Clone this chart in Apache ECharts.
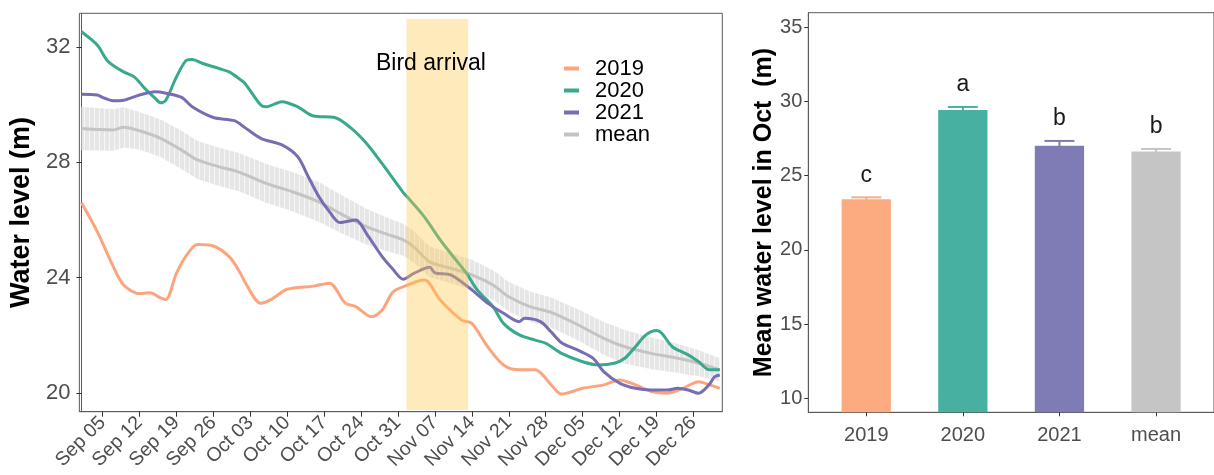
<!DOCTYPE html>
<html><head><meta charset="utf-8">
<script src="https://cdn.jsdelivr.net/npm/echarts@6/dist/echarts.min.js"></script>
<style>html,body{margin:0;padding:0;background:#fff}#c{width:1214px;height:475px}</style>
</head><body><div id="c"></div>
<script>
const YEAR = 2021;
// ---- left panel data (dates MM-DD) ----
const days2019 = ['09-01','09-04','09-07','09-09','09-12','09-14','09-16','09-17','09-19','09-21','09-23','09-26','09-29','10-01','10-02','10-05','10-07','10-10','10-15','10-18','10-21','10-23','10-26','10-28','10-30','11-01','11-05','11-08','11-12','11-14','11-17','11-20','11-23','11-26','11-29','12-01','12-05','12-09','12-12','12-15','12-18','12-21','12-24','12-27','12-29','12-31'];
const vals2019 = [26.6,25.6,24.4,23.75,23.45,23.48,23.3,23.25,24.15,24.8,25.15,25.1,24.73,24.2,23.85,23.12,23.25,23.6,23.71,23.81,23.12,23.0,22.65,22.88,23.5,23.69,23.92,23.23,22.54,22.42,21.61,20.98,20.81,20.81,20.3,19.97,20.17,20.29,20.46,20.29,20.06,20.0,20.17,20.4,20.29,20.17];
const days2020 = ['09-01','09-04','09-06','09-09','09-11','09-13','09-15','09-16','09-17','09-19','09-21','09-22','09-24','09-27','09-29','10-01','10-02','10-05','10-06','10-09','10-12','10-15','10-19','10-22','10-25','10-28','11-01','11-02','11-05','11-08','11-11','11-13','11-15','11-18','11-20','11-23','11-26','11-28','12-01','12-05','12-08','12-11','12-13','12-15','12-17','12-19','12-20','12-22','12-25','12-27','12-29','12-31'];
const vals2020 = [32.52,32.06,31.5,31.13,30.96,30.56,30.21,30.06,30.15,30.95,31.54,31.56,31.42,31.25,31.13,30.88,30.73,29.98,29.92,30.1,29.92,29.6,29.55,29.2,28.66,27.95,26.95,26.75,26.11,25.31,24.61,24.15,23.58,23.0,22.42,22.02,21.84,21.73,21.38,21.09,20.98,21.04,21.21,21.61,22.02,22.17,22.08,21.61,21.33,21.09,20.81,20.81];
const days2021 = ['09-01','09-04','09-05','09-07','09-09','09-12','09-15','09-17','09-20','09-22','09-26','09-30','10-02','10-05','10-09','10-12','10-14','10-16','10-18','10-20','10-23','10-25','10-28','10-30','11-01','11-03','11-06','11-07','11-10','11-14','11-17','11-20','11-23','11-24','11-27','11-29','12-01','12-04','12-07','12-09','12-12','12-15','12-18','12-21','12-23','12-25','12-27','12-29','12-30','12-31'];
const vals2021 = [30.36,30.33,30.25,30.13,30.15,30.33,30.44,30.39,30.25,29.92,29.55,29.44,29.2,28.83,28.6,28.19,27.5,26.81,26.29,25.91,26.0,25.54,24.73,24.3,23.95,24.15,24.36,24.17,24.1,23.58,23.12,22.77,22.48,22.6,22.48,22.13,21.75,21.5,21.21,20.75,20.35,20.17,20.11,20.11,20.17,20.11,20.0,20.3,20.57,20.63];
const daysMean = ['09-01','09-07','09-09','09-12','09-16','09-20','09-23','09-27','10-01','10-06','10-11','10-16','10-20','10-25','10-29','11-01','11-03','11-06','11-10','11-14','11-18','11-21','11-25','11-29','12-04','12-09','12-13','12-18','12-23','12-27','12-31'];
const valsMean = [29.17,29.12,29.21,29.09,28.83,28.42,28.08,27.85,27.65,27.27,26.98,26.63,26.23,25.77,25.5,25.31,25.07,24.55,24.33,24.1,23.75,23.34,23.0,22.8,22.38,21.9,21.61,21.38,21.21,21.04,20.81];
const sdMean = [0.75,0.72,0.7,0.65,0.65,0.66,0.66,0.66,0.66,0.67,0.68,0.69,0.66,0.62,0.58,0.55,0.55,0.53,0.52,0.52,0.51,0.51,0.52,0.52,0.54,0.57,0.58,0.55,0.5,0.45,0.4];
const birdArrival = [['11-01', 14.4], ['11-13', 7.2]];   // [date, hour]
const birdLevels = [19.42, 32.96];
const xTickDates = ['09-05','09-12','09-19','09-26','10-03','10-10','10-17','10-24','10-31','11-07','11-14','11-21','11-28','12-05','12-12','12-19','12-26'];
const xTickLabels = ['Sep 05','Sep 12','Sep 19','Sep 26','Oct 03','Oct 10','Oct 17','Oct 24','Oct 31','Nov 07','Nov 14','Nov 21','Nov 28','Dec 05','Dec 12','Dec 19','Dec 26'];
const yTicksLeft = [20, 24, 28, 32];
const seriesNames = ['2019', '2020', '2021', 'mean'];
// ---- right panel data ----
const barCats = ['2019', '2020', '2021', 'mean'];
const barMeans = [23.41, 29.43, 27.02, 26.62];
const barSE = [0.13, 0.2, 0.32, 0.18];
const barLetters = ['c', 'a', 'b', 'b'];
const yTicksRight = [10, 15, 20, 25, 30, 35];

const lineColors = ['#FBA47E', '#38A98D', '#776DB2', '#C4C4C4'];
const barColors = ['#FCAA80', '#48B0A0', '#7E7BB5', '#C5C5C5'];
const FONT = 'Liberation Sans, Arial, sans-serif';
const DAY = 86400000;
const ORIGIN = Date.UTC(YEAR, 8, 1);
// day index counted from Sep 01
function dayOf(md, hour) { const p = md.split('-').map(Number); return (Date.UTC(YEAR, p[0] - 1, p[1]) - ORIGIN) / DAY + (hour || 0) / 24; }
const pair = (days, vals) => days.map((d, i) => [dayOf(d), vals[i]]);
const xTickVals = xTickDates.map(d => dayOf(d));
const labelOf = v => { let best = 0; xTickVals.forEach((t, i) => { if (Math.abs(t - v) < Math.abs(xTickVals[best] - v)) best = i; }); return xTickLabels[best]; };
const bandData = daysMean.map((d, i) => [dayOf(d), valsMean[i], sdMean[i]]);

const pc = document.createElement('canvas'); pc.width = 5; pc.height = 4;
const pctx = pc.getContext('2d');
pctx.fillStyle = '#F7F7F7'; pctx.fillRect(0, 0, 5, 4);
pctx.fillStyle = '#E6E6E6'; pctx.fillRect(0, 0, 4, 4);

const chart = echarts.init(document.getElementById('c'), null, { renderer: 'canvas' });
const axisLineC = '#5A5A5A';
const option = {
  animation: false,
  textStyle: { fontFamily: FONT },
  grid: [
    { left: 76, top: 13.3, width: 646.3, height: 398.4, show: true, borderColor: axisLineC, borderWidth: 1, backgroundColor: '#fff' },
    { left: 808.3, top: 12.7, width: 413.2, height: 399.6, show: true, borderColor: axisLineC, borderWidth: 1, backgroundColor: '#fff' }
  ],
  xAxis: [
    { type: 'value', gridIndex: 0, min: dayOf('09-01') - 0.39, max: dayOf('12-31') + 0.47,
      axisLine: { show: true, lineStyle: { color: axisLineC } },
      axisTick: { show: true, length: 5, customValues: xTickVals, lineStyle: { color: '#333' } },
      axisLabel: { customValues: xTickVals, rotate: 45, margin: 8, fontSize: 19.5, color: '#4D4D4D', fontFamily: FONT, hideOverlap: false, formatter: v => labelOf(v) },
      splitLine: { show: false } },
    { type: 'value', gridIndex: 1, min: 0.4, max: 4.6,
      axisLine: { show: true, lineStyle: { color: axisLineC } },
      axisTick: { show: true, length: 4, customValues: [1, 2, 3, 4], lineStyle: { color: '#333' } },
      axisLabel: { customValues: [1, 2, 3, 4], margin: 13, fontSize: 20, color: '#4D4D4D', fontFamily: FONT, formatter: v => barCats[Math.round(v) - 1] },
      splitLine: { show: false } }
  ],
  yAxis: [
    { type: 'value', gridIndex: 0, min: 19.36, max: 33.16,
      axisLine: { show: true, lineStyle: { color: axisLineC } },
      axisTick: { show: true, length: 5, customValues: yTicksLeft, lineStyle: { color: '#333' } },
      axisLabel: { customValues: yTicksLeft, margin: 9, fontSize: 22, color: '#4D4D4D', fontFamily: FONT },
      splitLine: { show: false },
      name: 'Water level (m)', nameLocation: 'middle', nameGap: 40,
      nameTextStyle: { fontSize: 27, fontWeight: 'bold', color: '#000', fontFamily: FONT } },
    { type: 'value', gridIndex: 1, min: 9.057, max: 35.98,
      axisLine: { show: true, lineStyle: { color: axisLineC } },
      axisTick: { show: true, length: 4, customValues: yTicksRight, lineStyle: { color: '#333' } },
      axisLabel: { customValues: yTicksRight, margin: 6, fontSize: 20, color: '#4D4D4D', fontFamily: FONT },
      splitLine: { show: false },
      name: 'Mean water level in Oct  (m)', nameLocation: 'middle', nameGap: 32,
      nameTextStyle: { fontSize: 25, fontWeight: 'bold', color: '#000', fontFamily: FONT } }
  ],
  legend: {
    data: seriesNames, orient: 'vertical', left: 559, top: 52.5, itemGap: 0,
    icon: 'rect', itemWidth: 15, itemHeight: 4, selectedMode: false,
    textStyle: { fontSize: 22, lineHeight: 21, color: '#000', fontFamily: FONT, padding: [0, 0, 0, 11] }
  },
  graphic: [
    { type: 'text', left: 376, top: 52, z: 20, style: { text: 'Bird arrival', fontSize: 23, fill: '#000', fontFamily: FONT } }
  ],
  series: [
    { name: 'band', type: 'custom', xAxisIndex: 0, yAxisIndex: 0, silent: true, z: 1,
      encode: { x: 0, y: 1 },
      data: bandData,
      renderItem: (params, api) => {
        if (params.dataIndex !== 0) return null;
        const up = bandData.map(p => api.coord([p[0], p[1] + p[2]]));
        const lo = bandData.map(p => api.coord([p[0], p[1] - p[2]])).reverse();
        return { type: 'polygon', shape: { points: up.concat(lo) },
                 style: { fill: { image: pc, repeat: 'repeat' } } };
      } },
    { name: 'mean', type: 'line', xAxisIndex: 0, yAxisIndex: 0, smooth: 0.3, symbol: 'none',
      color: lineColors[3], lineStyle: { width: 3, color: lineColors[3] }, data: pair(daysMean, valsMean), z: 2 },
    { name: '2019', type: 'line', xAxisIndex: 0, yAxisIndex: 0, smooth: 0.3, symbol: 'none',
      color: lineColors[0], lineStyle: { width: 3, color: lineColors[0] }, data: pair(days2019, vals2019), z: 3 },
    { name: '2020', type: 'line', xAxisIndex: 0, yAxisIndex: 0, smooth: 0.3, symbol: 'none',
      color: lineColors[1], lineStyle: { width: 3, color: lineColors[1] }, data: pair(days2020, vals2020), z: 3 },
    { name: '2021', type: 'line', xAxisIndex: 0, yAxisIndex: 0, smooth: 0.3, symbol: 'none',
      color: lineColors[2], lineStyle: { width: 3, color: lineColors[2] }, data: pair(days2021, vals2021), z: 3 },
    { name: 'bird', type: 'custom', xAxisIndex: 0, yAxisIndex: 0, silent: true, z: 10,
      encode: { x: [0, 1], y: [2, 3] },
      data: [[dayOf(birdArrival[0][0], birdArrival[0][1]), dayOf(birdArrival[1][0], birdArrival[1][1]), birdLevels[0], birdLevels[1]]],
      renderItem: (params, api) => {
        const p1 = api.coord([api.value(0), api.value(3)]);
        const p2 = api.coord([api.value(1), api.value(2)]);
        return { type: 'rect', shape: { x: p1[0], y: p1[1], width: p2[0] - p1[0], height: p2[1] - p1[1] },
                 style: { fill: 'rgba(255,200,78,0.38)' } };
      } },
    { name: 'bars', type: 'bar', xAxisIndex: 1, yAxisIndex: 1, barWidth: 49.3,
      data: barMeans.map((v, i) => ({ value: [i + 1, v], itemStyle: { color: barColors[i] } })), z: 2 },
    { name: 'err', type: 'custom', xAxisIndex: 1, yAxisIndex: 1, silent: true, z: 4,
      encode: { x: 0, y: 1 },
      data: barMeans.map((v, i) => [i + 1, v, barSE[i]]),
      renderItem: (params, api) => {
        const i = params.dataIndex;
        const x = api.value(0), m = api.value(1), se = api.value(2);
        const top = api.coord([x, m + se]);
        const bot = api.coord([x, m - se]);
        const hw = 15;
        const st = { stroke: barColors[i], lineWidth: 2 };
        return { type: 'group', children: [
          { type: 'line', shape: { x1: top[0], y1: top[1], x2: bot[0], y2: bot[1] }, style: st },
          { type: 'line', shape: { x1: top[0] - hw, y1: top[1], x2: top[0] + hw, y2: top[1] }, style: st },
          { type: 'line', shape: { x1: bot[0] - hw, y1: bot[1], x2: bot[0] + hw, y2: bot[1] }, style: st },
          { type: 'text', x: top[0], y: top[1] - 22, style: { text: barLetters[i], fontSize: 23, fill: '#1A1A1A', fontFamily: FONT, align: 'center', verticalAlign: 'middle' } }
        ] };
      } }
  ]
};
chart.setOption(option);
</script></body></html>
